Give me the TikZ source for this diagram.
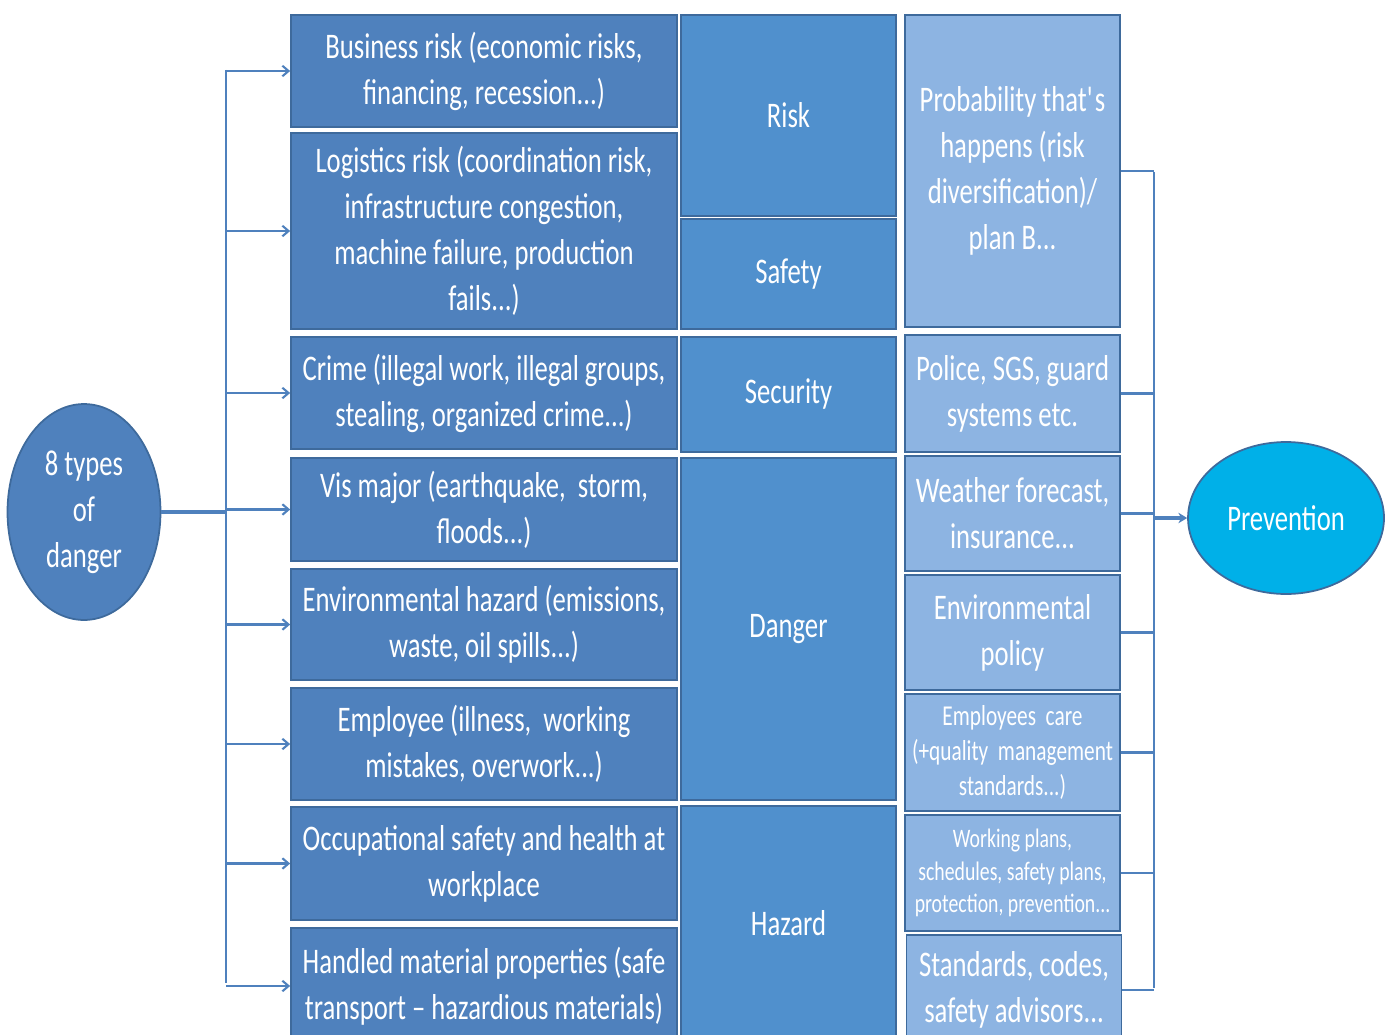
\documentclass[tikz,border=0pt]{standalone}
\usepackage{fontspec}
\setmainfont{Carlito}[FakeStretch=0.74]
\usepackage{xcolor}
\usepackage{tikz}
\usetikzlibrary{shapes, arrows, arrows.meta, positioning, calc}
\definecolor{typeblue}{RGB}{79,129,189}
\definecolor{termblue}{RGB}{80,144,205}
\definecolor{stepblue}{RGB}{141,180,226}
\definecolor{edgeblue}{RGB}{62,106,156}
\definecolor{linkblue}{RGB}{79,129,189}
\definecolor{prevcyan}{RGB}{0,176,232}

\begin{document}
\begin{tikzpicture}[x=0.02cm, y=-0.02cm,
		every node/.style={text=white, align=center, inner sep=0pt, font=\fontsize{20.5}{26.2}\selectfont},
		typebox/.style={rectangle, draw=edgeblue, line width=1pt, fill=typeblue, minimum width=7.72cm},
		termbox/.style={rectangle, draw=edgeblue, line width=1pt, fill=termblue, minimum width=4.3cm},
		stepbox/.style={rectangle, draw=edgeblue, line width=1pt, fill=stepblue, minimum width=4.3cm},
		link/.style={linkblue, line width=1.2pt},
		linkarrow/.style={linkblue, line width=1.2pt, -{Straight Barb[length=3.5pt, width=6pt]}}]
		\useasboundingbox (0,0) rectangle (1391,1034);
		\clip (0,0) rectangle (1391,1034);

		% main ellipses
		\node [ellipse, draw=edgeblue, line width=1pt, fill=typeblue, minimum width=3.06cm, minimum height=4.32cm] (types) at (84,512) {8 types\\of\\danger};
		\node [ellipse, draw=edgeblue, line width=1pt, fill=prevcyan, minimum width=3.92cm, minimum height=3.04cm] (prevention) at (1286,518) {Prevention};

		% types of danger
		\node [typebox, minimum height=2.24cm] (business) at (484,71) {Business risk (economic risks,\\financing, recession...)};
		\node [typebox, minimum height=3.92cm] (logistics) at (484,231) {Logistics risk (coordination risk,\\infrastructure congestion,\\machine failure, production\\fails...)};
		\node [typebox, minimum height=2.24cm] (crime) at (484,393) {Crime (illegal work, illegal groups,\\stealing, organized crime...)};
		\node [typebox, minimum height=2.06cm] (vismajor) at (484,509.5) {Vis major (earthquake,~ storm,\\floods...)};
		\node [typebox, minimum height=2.22cm] (envhazard) at (484,624.5) {Environmental hazard (emissions,\\waste, oil spills...)};
		\node [typebox, minimum height=2.24cm] (employee) at (484,744) {Employee (illness,~ working\\mistakes, overwork...)};
		\node [typebox, minimum height=2.26cm] (occupational) at (484,863.5) {Occupational safety and health at\\workplace};
		\node [typebox, minimum height=2.32cm] (material) at (484,986) {Handled material properties (safe\\transport – hazardious materials)};

		% terms
		\node [termbox, minimum height=4.02cm] (risk) at (788.5,115.5) {Risk};
		\node [termbox, minimum height=2.2cm] (safety) at (788.5,274) {Safety};
		\node [termbox, minimum height=2.3cm] (security) at (788.5,394.5) {Security};
		\node [termbox, minimum height=6.84cm] (danger) at (788.5,629) {Danger};
		\node [termbox, minimum height=4.68cm] (hazard) at (788.5,923) {Hazard};

		% measures
		\node [stepbox, minimum height=6.24cm] (probability) at (1012.5,171) {Probability that\textquotesingle s\\happens (risk\\diversification)/\\plan B...};
		\node [stepbox, minimum height=2.34cm] (police) at (1012.5,393.5) {Police, SGS, guard\\systems etc.};
		\node [stepbox, minimum height=2.3cm] (weather) at (1012.5,513.5) {Weather forecast,\\insurance...};
		\node [stepbox, minimum height=2.3cm] (envpolicy) at (1012.5,632.5) {Environmental\\policy};
		\node [stepbox, minimum height=2.34cm, font=\fontsize{16.4}{19.9}\selectfont] (care) at (1012.5,752.5) {Employees~ care\\(+quality~ management\\standards...)};
		\node [stepbox, minimum height=2.32cm, font=\fontsize{15.2}{18.3}\selectfont] (plans) at (1012.5,873) {Working plans,\\schedules, safety plans,\\protection, prevention...};
		\node [stepbox, minimum height=2.2cm] (standards) at (1014,990) {Standards, codes,\\safety advisors...};

		% left connector
		\coordinate (split) at (226,512);
		\draw [link, line width=2pt] (types.east) -- (split);
		\draw [link] (226,70) -- (226,983);
		\foreach \dtype in {business, logistics, crime, vismajor, envhazard, employee, occupational, material}
			\draw [linkarrow] (\dtype.west -| split) -- (\dtype.west);

		% right connector
		\coordinate (join) at (1154,518);
		\draw [link] (1154,172) -- (1154,988);
		\foreach \dstep in {probability, police, weather, envpolicy, care, plans, standards}
			\draw [link] (\dstep.east) -- (\dstep.east -| join);
		\draw [link, line width=2pt, -{Stealth[length=5pt, width=6pt]}] (join) -- (prevention.west);
	\end{tikzpicture}
\end{document}
